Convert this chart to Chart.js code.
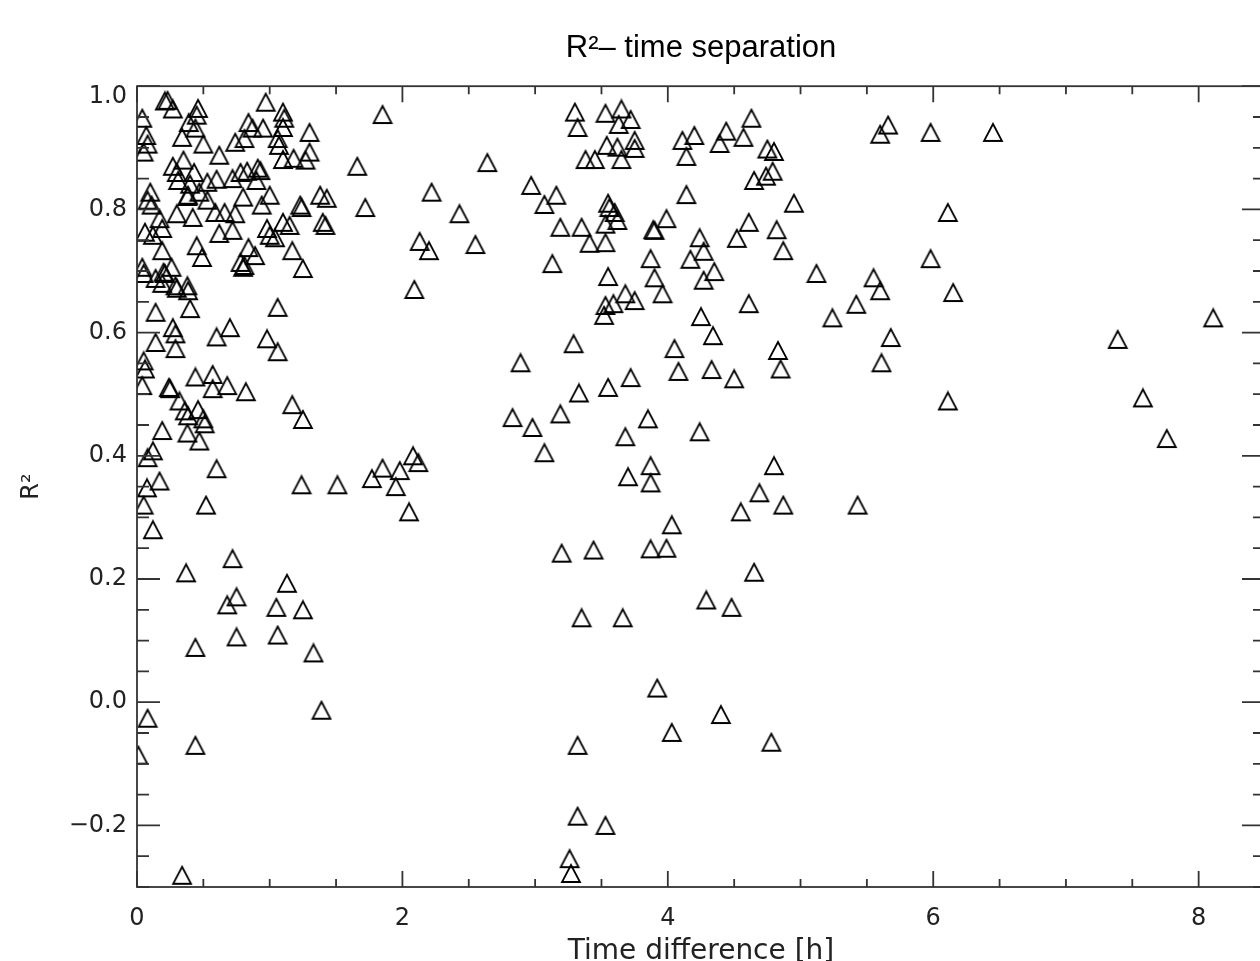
<!DOCTYPE html>
<html>
<head>
<meta charset="utf-8">
<title>R² – time separation</title>
<script src="https://cdn.jsdelivr.net/npm/chart.js@4.4.1/dist/chart.umd.min.js"></script>
<style>
  html, body { margin: 0; padding: 0; background: #fff; overflow: hidden; }
  #wrap { position: relative; width: 1300px; height: 975px; }
</style>
</head>
<body>
<div id="wrap"><canvas id="chart"></canvas></div>
<script>
// pairs within about two hours
const shortHours = [
  0.21, 0.23, 0.27, 0.04, 0.07, 0.08, 0.05, 0.46, 0.45, 0.39,
  0.44, 0.34, 0.50, 0.62, 0.97, 0.84, 0.87, 0.95, 0.81, 0.74,
  1.10, 1.11, 1.10, 1.06, 1.07, 1.30, 1.30, 1.27, 1.18, 1.10,
  1.85, 1.66, 0.27, 0.35, 0.30, 0.31, 0.43, 0.40, 0.53, 0.60,
  0.72, 0.78, 0.83, 0.91, 0.93, 0.90, 0.47, 0.38, 0.385, 0.10,
  0.08, 0.11, 0.53, 1.00, 0.94, 0.80, 0.59, 0.66, 0.74, 0.30,
  0.42, 0.17, 0.19, 0.06, 0.12, 0.62, 0.72, 1.23, 1.24, 1.38,
  1.43, 1.40, 1.42, 1.10, 1.15, 0.98, 1.00, 1.04, 1.72, 2.13,
  0.45, 0.49, 0.19, 0.26, 0.20, 0.84, 0.89, 0.78, 0.81, 0.80,
  1.17, 1.25, 0.04, 0.05, 0.14, 0.19, 0.21, 0.29, 0.30, 0.38,
  0.385, 2.09, 0.14, 0.40, 1.06, 0.27, 0.29, 0.29, 0.14, 0.60,
  0.70, 0.98, 1.06, 0.05, 0.06, 0.04, 0.24, 0.25, 0.44, 0.57,
  0.57, 0.68, 0.82, 1.17, 1.25, 0.32, 0.36, 0.385, 0.46, 0.50,
  0.51, 0.38, 0.19, 0.47, 0.12, 0.08, 0.60, 0.17, 0.075, 2.08,
  2.12, 1.85, 1.98, 1.77, 1.24, 1.51, 1.95, 0.05, 0.12, 0.52,
  2.05, 0.72, 0.37, 1.13, 0.75, 0.68, 1.05, 1.25, 0.44, 0.75,
  1.06, 1.33, 0.08, 0.44, 0.01, 1.39, 0.34
];
const shortR2 = [
  0.976, 0.977, 0.963, 0.948, 0.920, 0.906, 0.893, 0.964, 0.953, 0.941,
  0.932, 0.917, 0.906, 0.888, 0.974, 0.941, 0.932, 0.932, 0.915, 0.909,
  0.958, 0.948, 0.933, 0.915, 0.904, 0.925, 0.893, 0.880, 0.883, 0.881,
  0.954, 0.870, 0.870, 0.880, 0.860, 0.847, 0.860, 0.841, 0.844, 0.849,
  0.850, 0.860, 0.862, 0.867, 0.863, 0.847, 0.828, 0.821, 0.823, 0.828,
  0.815, 0.807, 0.815, 0.823, 0.807, 0.820, 0.795, 0.795, 0.793, 0.793,
  0.787, 0.785, 0.769, 0.763, 0.758, 0.761, 0.766, 0.807, 0.803, 0.823,
  0.818, 0.779, 0.774, 0.779, 0.774, 0.769, 0.758, 0.754, 0.803, 0.748,
  0.741, 0.722, 0.733, 0.706, 0.698, 0.738, 0.725, 0.714, 0.709, 0.706,
  0.733, 0.704, 0.706, 0.696, 0.688, 0.680, 0.696, 0.676, 0.672, 0.676,
  0.668, 0.670, 0.633, 0.639, 0.641, 0.608, 0.598, 0.574, 0.584, 0.593,
  0.608, 0.590, 0.569, 0.554, 0.541, 0.514, 0.511, 0.509, 0.528, 0.532,
  0.509, 0.514, 0.504, 0.483, 0.459, 0.489, 0.473, 0.465, 0.475, 0.460,
  0.452, 0.437, 0.441, 0.424, 0.408, 0.397, 0.379, 0.359, 0.348, 0.400,
  0.389, 0.380, 0.376, 0.363, 0.353, 0.353, 0.350, 0.320, 0.280, 0.320,
  0.309, 0.233, 0.210, 0.193, 0.171, 0.158, 0.154, 0.150, 0.089, 0.106,
  0.109, 0.080, -0.026, -0.070, -0.086, -0.013, -0.281
];

// pairs between about two and five hours
const midHours = [
  3.30, 3.32, 3.53, 3.65, 3.63, 3.72, 3.54, 3.62, 3.75, 3.75,
  3.38, 3.45, 3.65, 4.11, 4.20, 4.14, 2.64, 2.22, 2.97, 3.16,
  3.07, 2.43, 3.55, 3.56, 3.60, 3.62, 3.53, 3.19, 3.35, 3.41,
  3.53, 3.89, 3.90, 3.99, 4.14, 2.20, 2.55, 3.13, 4.24, 4.27,
  4.17, 4.27, 3.87, 3.90, 3.96, 3.55, 3.68, 3.75, 3.59, 3.53,
  3.52, 4.25, 3.29, 4.05, 4.08, 4.34, 4.33, 2.89, 3.72, 3.55,
  3.33, 2.83, 2.98, 3.19, 3.07, 3.85, 3.68, 4.24, 3.70, 3.87,
  3.87, 4.44, 4.39, 4.63, 4.57, 4.75, 4.80, 4.79, 4.74, 4.65,
  4.95, 4.61, 4.52, 4.82, 4.87, 4.35, 4.61, 4.83, 4.85, 4.50,
  4.80, 4.69, 4.55, 4.87, 4.03, 3.20, 3.44, 3.87, 3.99, 4.65,
  4.29, 4.48, 3.35, 3.66, 3.92, 4.40, 4.03, 3.32, 4.78, 3.32,
  3.53, 3.26, 3.27
];
const midR2 = [
  0.958, 0.933, 0.956, 0.963, 0.938, 0.946, 0.904, 0.901, 0.912, 0.899,
  0.881, 0.881, 0.881, 0.912, 0.920, 0.886, 0.876, 0.828, 0.839, 0.823,
  0.808, 0.793, 0.810, 0.803, 0.795, 0.782, 0.776, 0.771, 0.771, 0.745,
  0.746, 0.767, 0.766, 0.785, 0.824, 0.733, 0.743, 0.712, 0.754, 0.732,
  0.719, 0.685, 0.720, 0.689, 0.663, 0.691, 0.663, 0.652, 0.647, 0.644,
  0.628, 0.626, 0.582, 0.574, 0.537, 0.595, 0.540, 0.551, 0.527, 0.511,
  0.502, 0.462, 0.446, 0.468, 0.405, 0.460, 0.431, 0.439, 0.366, 0.384,
  0.356, 0.927, 0.907, 0.948, 0.917, 0.898, 0.894, 0.862, 0.854, 0.847,
  0.810, 0.779, 0.753, 0.767, 0.733, 0.699, 0.647, 0.571, 0.541, 0.525,
  0.384, 0.340, 0.309, 0.320, 0.288, 0.242, 0.247, 0.249, 0.250, 0.211,
  0.166, 0.154, 0.137, 0.137, 0.023, -0.020, -0.049, -0.070, -0.065, -0.185,
  -0.200, -0.254, -0.278
];

// pairs more than five hours apart
const longHours = [
  5.66, 5.60, 5.98, 6.45, 6.11, 5.98, 5.12, 5.55, 5.60, 6.15,
  5.42, 5.24, 5.68, 5.61, 6.11, 5.43, 7.39, 7.58, 7.76, 8.11
];
const longR2 = [
  0.937, 0.922, 0.925, 0.925, 0.795, 0.720, 0.696, 0.689, 0.668, 0.665,
  0.646, 0.624, 0.592, 0.551, 0.489, 0.320, 0.589, 0.494, 0.428, 0.624
];

// axis layout
const xRange = [0, 8.5];
const yRange = [-0.3, 1.0];
const xTickValues = [0, 2, 4, 6, 8];
const yTickValues = [-0.2, 0.0, 0.2, 0.4, 0.6, 0.8, 1.0];
const xMinorStep = 0.5;
const yMinorStep = 0.05;

function pairs(xs, ys) {
  return xs.map((v, i) => ({ x: v, y: ys[i] }));
}

// open triangle marker, as tall as it is wide
function triangleMarker() {
  const c = document.createElement('canvas');
  c.width = 22;
  c.height = 21;
  const g = c.getContext('2d');
  g.strokeStyle = '#000';
  g.lineWidth = 1.8;
  g.lineJoin = 'miter';
  g.beginPath();
  g.moveTo(11, 2);
  g.lineTo(20, 19);
  g.lineTo(2, 19);
  g.closePath();
  g.stroke();
  return c;
}
const marker = triangleMarker();

// boxed frame with inward major and minor ticks on all four sides
const frameTicks = {
  id: 'frameTicks',
  afterDatasetsDraw(chart) {
    const { ctx, chartArea: a, scales: { x, y } } = chart;
    ctx.save();
    ctx.strokeStyle = '#333';
    ctx.lineWidth = 1.8;
    ctx.strokeRect(a.left, a.top, a.right - a.left, a.bottom - a.top);
    ctx.beginPath();
    const nx = Math.round((x.max - x.min) / xMinorStep);
    for (let i = 0; i <= nx; i++) {
      const v = x.min + i * xMinorStep;
      const px = x.getPixelForValue(v);
      const major = xTickValues.some(t => Math.abs(t - v) < 1e-6);
      const len = major ? 16 : 8;
      ctx.moveTo(px, a.bottom);
      ctx.lineTo(px, a.bottom - len);
      ctx.moveTo(px, a.top);
      ctx.lineTo(px, a.top + len);
    }
    const ny = Math.round((y.max - y.min) / yMinorStep);
    for (let i = 0; i <= ny; i++) {
      const v = y.min + i * yMinorStep;
      const py = y.getPixelForValue(v);
      const major = yTickValues.some(t => Math.abs(t - v) < 1e-6);
      const len = major ? 23 : 12;
      ctx.moveTo(a.left, py);
      ctx.lineTo(a.left + len, py);
      ctx.moveTo(a.right, py);
      ctx.lineTo(a.right - len, py);
    }
    ctx.stroke();
    ctx.restore();
  }
};

const pointStyle = {
  pointStyle: marker,
  pointRadius: 9,
  pointHoverRadius: 9,
  showLine: false
};

// the top label sits a little below its tick, so it gets a blank first line
const topY = yTickValues[yTickValues.length - 1];
const isTop = v => Math.abs(v - topY) < 1e-6;

const chart = new Chart(document.getElementById('chart'), {
  type: 'scatter',
  data: {
    datasets: [
      { label: 'short', data: pairs(shortHours, shortR2), ...pointStyle },
      { label: 'mid', data: pairs(midHours, midR2), ...pointStyle },
      { label: 'long', data: pairs(longHours, longR2), ...pointStyle }
    ]
  },
  options: {
    responsive: true,
    maintainAspectRatio: false,
    animation: false,
    events: [],
    layout: { padding: { left: 0, right: 35, top: 0, bottom: 0 } },
    plugins: {
      legend: { display: false },
      tooltip: { enabled: false },
      title: {
        display: true,
        fullSize: false,
        text: 'R²– time separation',
        color: '#000',
        font: { family: 'Liberation Sans', size: 31, weight: 'normal' },
        padding: { top: 30, bottom: 19 }
      }
    },
    scales: {
      x: {
        type: 'linear',
        position: 'bottom',
        min: xRange[0],
        max: xRange[1],
        grid: { display: false, drawTicks: false },
        border: { display: false },
        afterBuildTicks: s => { s.ticks = xTickValues.map(v => ({ value: v })); },
        afterFit: s => { s.height = 88; },
        ticks: {
          padding: 17,
          maxRotation: 0,
          color: '#222',
          font: { family: 'DejaVu Sans', size: 24 },
          callback: v => String(v)
        },
        title: {
          display: true,
          text: 'Time difference [h]',
          color: '#222',
          font: { family: 'DejaVu Sans', size: 28 },
          padding: { top: 0, bottom: 6 }
        }
      },
      y: {
        type: 'linear',
        position: 'left',
        min: yRange[0],
        max: yRange[1],
        grid: { display: false, drawTicks: false },
        border: { display: false },
        afterBuildTicks: s => { s.ticks = yTickValues.map(v => ({ value: v })); },
        afterFit: s => { s.width = 137; },
        ticks: {
          padding: 10,
          color: '#222',
          font: c => ({
            family: 'DejaVu Sans',
            size: 24,
            lineHeight: c.tick && isTop(c.tick.value) ? 0.85 : 1.2
          }),
          callback: v => {
            const s = v.toFixed(1).replace('-', '−');
            return isTop(v) ? ['', s] : s;
          }
        },
        title: {
          display: true,
          text: 'R²',
          color: '#222',
          font: { family: 'DejaVu Sans', size: 24 },
          padding: { top: 17, bottom: 0 }
        }
      }
    }
  },
  plugins: [frameTicks]
});
</script>
</body>
</html>
